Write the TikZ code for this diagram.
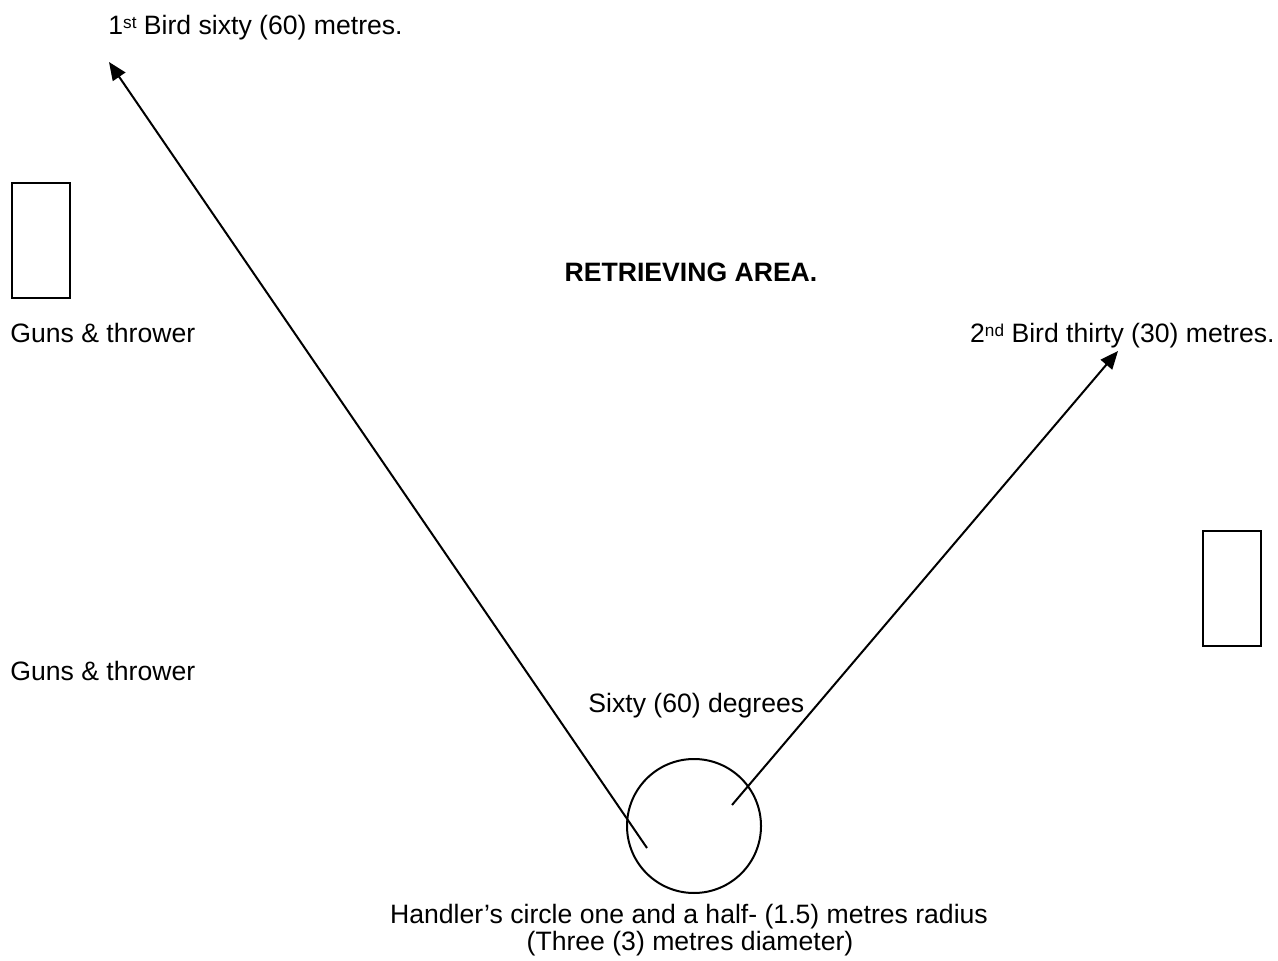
\documentclass[tikz,border=0pt]{standalone}
\usepackage{fontspec}
\setmainfont{Liberation Sans}
\usetikzlibrary{arrows.meta}
\newcommand{\supx}[1]{\raisebox{3.3pt}{\fontsize{8.6}{10}\selectfont #1}}
\begin{document}
\begin{tikzpicture}[x=0.5pt,y=-0.5pt,
  lbl/.style={inner sep=0pt,font=\fontsize{13.3}{16}\selectfont},
  gunbox/.style={draw,line width=1pt,minimum width=29pt,minimum height=57.5pt,inner sep=0pt},
  line/.style={line width=1pt},
  arr/.style={line width=1pt,-{Triangle[length=9pt,width=7.5pt]}}]
\useasboundingbox (0,0) rectangle (1278,961);
% gun boxes
\node[gunbox] (g1) at (41,240.5) {};
\node[gunbox] (g2) at (1231.5,588.5) {};
% handler's circle
\node[draw,line,circle,minimum size=67pt,inner sep=0pt] (hc) at (694,826) {};
\coordinate (s1) at (647,848);
\coordinate (s2) at (732,805);
\coordinate (b1) at (109,62);
\coordinate (b2) at (1118,351);
\draw[arr] (s1) -- (b1);
\draw[arr] (s2) -- (b2);
% labels
\node[lbl,anchor=base west] (t1) at (108,35) {1\supx{st} Bird sixty (60) metres.};
\node[lbl,anchor=base west] (gt1) at (10,343) {Guns \& thrower};
\node[lbl,anchor=base west] (gt2) at (10,680) {Guns \& thrower};
\node[lbl,anchor=base,font=\fontsize{13.3}{16}\selectfont\bfseries] (ra) at (691,282) {RETRIEVING AREA.};
\node[lbl,anchor=base east] (t2) at (1275,343) {2\supx{nd} Bird thirty (30) metres.};
\node[lbl,anchor=base west] (deg) at (588,712) {Sixty (60) degrees};
\node[lbl,anchor=base] (h1) at (689,923) {Handler’s circle one and a half- (1.5) metres radius};
\node[lbl,anchor=base] (h2) at (690,950) {(Three (3) metres diameter)};
\end{tikzpicture}
\end{document}
